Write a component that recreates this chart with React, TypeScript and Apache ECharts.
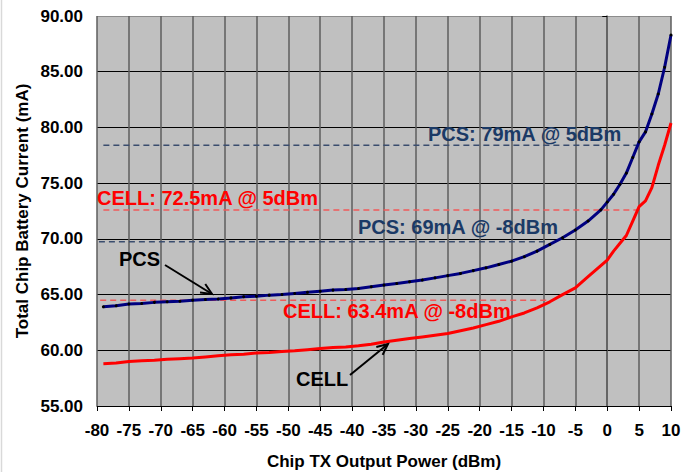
import React, { useEffect, useRef } from "react";
import * as echarts from "echarts";

const xPower = [
  -79, -77, -75, -73, -71, -69, -67, -65, -63, -61, -59, -57, -55, -53, -51, -49, -47, -45, -43, -41,
  -39, -37, -35, -33, -31, -29, -27, -25, -23, -21, -19, -17, -15, -13, -11, -9, -7, -5, -3, -1,
  0, 1, 2, 3, 4, 5, 6, 7, 8, 9, 10,
];
const pcsCurrent = [
  63.9, 64.0, 64.15, 64.2, 64.3, 64.35, 64.4, 64.5, 64.55, 64.6, 64.7, 64.8, 64.85, 64.95, 65.0, 65.1, 65.2, 65.3, 65.4, 65.45,
  65.55, 65.7, 65.85, 66.0, 66.15, 66.3, 66.5, 66.7, 66.9, 67.15, 67.4, 67.7, 68.0, 68.4, 68.9, 69.5, 70.1, 70.8, 71.6, 72.6,
  73.3, 74.0, 74.9, 75.9, 77.3, 78.7, 79.6, 81.2, 83.0, 85.4, 88.3,
];
const cellCurrent = [
  58.8, 58.85, 59.0, 59.05, 59.1, 59.2, 59.25, 59.3, 59.4, 59.5, 59.6, 59.65, 59.75, 59.8, 59.9, 59.95, 60.05, 60.15, 60.25, 60.3,
  60.4, 60.55, 60.75, 60.9, 61.05, 61.2, 61.35, 61.5, 61.75, 62.0, 62.3, 62.6, 63.0, 63.35, 63.8, 64.35, 65.0, 65.6, 66.6, 67.6,
  68.1, 68.9, 69.6, 70.3, 71.6, 72.9, 73.4, 74.6, 76.6, 78.4, 80.4,
];

// reference (dashed) lines: [xStart, xEnd, level]
const pcs79Ref = [-79, 4.6, 78.4];
const cell725Ref = [-79, 4.6, 72.6];
const pcs69Ref = [-79.7, -9.5, 69.75];
const cell634Ref = [-79.5, -9.5, 64.5];

const yTicks = [55, 60, 65, 70, 75, 80, 85, 90];

const annotations = {
  pcs79: "PCS: 79mA @ 5dBm",
  cell725: "CELL: 72.5mA @ 5dBm",
  pcs69: "PCS: 69mA @ -8dBm",
  cell634: "CELL: 63.4mA @ -8dBm",
  pcs: "PCS",
  cell: "CELL",
};

const FONT = "'Liberation Sans', Arial, sans-serif";
const NAVY_TXT = "#1b3a66";
const RED = "#ff0000";

function arrow(x1: number, y1: number, x2: number, y2: number) {
  const dx = x2 - x1, dy = y2 - y1;
  const len = Math.sqrt(dx * dx + dy * dy);
  const ux = dx / len, uy = dy / len;
  const px = -uy, py = ux;
  const L = 11, W = 5;
  const bx = x2 - ux * L, by = y2 - uy * L;
  return [
    { type: "line", shape: { x1, y1, x2, y2 }, style: { stroke: "#000", lineWidth: 2 }, z: 100 },
    {
      type: "polyline",
      shape: { points: [[bx + px * W, by + py * W], [x2, y2], [bx - px * W, by - py * W]] },
      style: { stroke: "#000", lineWidth: 2, fill: null },
      z: 100,
    },
  ];
}

function refSeries(ref: number[], color: string) {
  return {
    type: "line",
    data: [[ref[0], ref[2]], [ref[1], ref[2]]],
    showSymbol: false,
    silent: true,
    lineStyle: { color, width: 1.5, type: [6, 4] },
    z: 3,
  };
}

function txt(text: string, x: number, y: number, fill: string) {
  return {
    type: "text",
    x,
    y,
    z: 100,
    style: { text, fill, font: `bold 20px ${FONT}`, align: "left", verticalAlign: "middle" },
  };
}

export default function App() {
  const ref = useRef<HTMLDivElement>(null);
  useEffect(() => {
    const chart = echarts.init(ref.current!, null, { renderer: "svg" });
    const hColors = yTicks.map((v) => (v === 90 ? "#8c8c8c" : "#000000"));
    chart.setOption({
      animation: false,
      backgroundColor: "#ffffff",
      grid: {
        left: 97,
        top: 16,
        right: 22,
        bottom: 66,
        show: true,
        backgroundColor: "#c0c0c0",
        borderWidth: 0,
      },
      xAxis: {
        type: "value",
        min: -80,
        max: 10,
        interval: 5,
        axisLine: { show: true, onZero: false, lineStyle: { color: "#000", width: 1 } },
        axisTick: { show: true, length: 5, lineStyle: { color: "#000" } },
        axisLabel: { color: "#000", fontWeight: "bold", fontSize: 17, fontFamily: FONT, margin: 16 },
        splitLine: { show: true, lineStyle: { color: "#5e5e5e", width: 1.5 } },
      },
      yAxis: {
        type: "value",
        min: 55,
        max: 90,
        interval: 5,
        axisLine: { show: true, lineStyle: { color: "#606060", width: 1.5 } },
        axisTick: { show: true, length: 5, lineStyle: { color: "#000" } },
        axisLabel: {
          color: "#000",
          fontWeight: "bold",
          fontSize: 17,
          fontFamily: FONT,
          margin: 14,
          formatter: (v: number) => v.toFixed(2),
        },
        splitLine: { show: true, lineStyle: { color: hColors, width: 1 } },
      },
      series: [
        refSeries(pcs79Ref, "#3a4d6e"),
        refSeries(cell725Ref, "#f05a5a"),
        refSeries(pcs69Ref, "#3a4d6e"),
        refSeries(cell634Ref, "#f05a5a"),
        {
          name: "CELL",
          type: "line",
          data: xPower.map((x, i) => [x, cellCurrent[i]]),
          showSymbol: false,
          lineStyle: { color: RED, width: 3 },
          z: 5,
        },
        {
          name: "PCS",
          type: "line",
          data: xPower.map((x, i) => [x, pcsCurrent[i]]),
          symbol: "circle",
          symbolSize: 3,
          itemStyle: { color: "#000", borderWidth: 0 },
          lineStyle: { color: "#000080", width: 3 },
          z: 6,
        },
      ],
      graphic: [
        { type: "line", shape: { x1: 1.5, y1: 0, x2: 1.5, y2: 472 }, style: { stroke: "#d9d9d9", lineWidth: 1.5 } },
        {
          type: "text",
          x: 22,
          y: 211,
          rotation: Math.PI / 2,
          style: {
            text: "Total Chip Battery Current (mA)",
            fill: "#000",
            font: `bold 17px ${FONT}`,
            align: "center",
            verticalAlign: "middle",
          },
        },
        {
          type: "text",
          x: 384,
          y: 461,
          style: {
            text: "Chip TX Output Power (dBm)",
            fill: "#000",
            font: `bold 17px ${FONT}`,
            align: "center",
            verticalAlign: "middle",
          },
        },
        txt(annotations.pcs79, 428, 134, NAVY_TXT),
        txt(annotations.cell725, 97, 198, RED),
        txt(annotations.pcs69, 358, 227, NAVY_TXT),
        txt(annotations.cell634, 283, 311, RED),
        txt(annotations.pcs, 119, 259, "#000"),
        txt(annotations.cell, 296, 379, "#000"),
        ...arrow(165, 265, 212, 294),
        ...arrow(350, 375, 388, 344),
      ],
    });
    return () => chart.dispose();
  }, []);
  return <div ref={ref} style={{ width: 693, height: 472, position: "absolute", left: 0, top: 0 }} />;
}
